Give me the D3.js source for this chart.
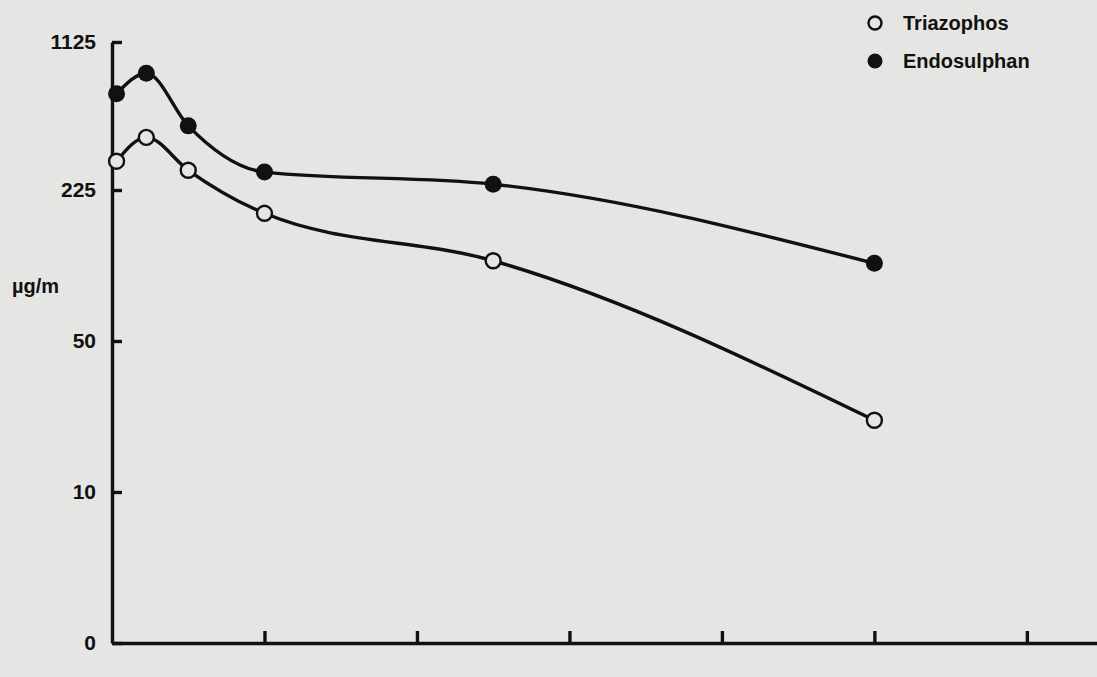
<!DOCTYPE html>
<html>
<head>
<meta charset="utf-8">
<script src="https://cdn.jsdelivr.net/npm/d3@7"></script>
<style>
  body { margin: 0; background: #e5e5e3; }
  svg { display: block; }
  text { font-family: "Liberation Sans", Arial, sans-serif; font-weight: bold; fill: #111; }
</style>
</head>
<body>
<div id="chart"></div>
<script>
const svgWidth = 1097;
const svgHeight = 677;

// distance along x (no labels on the original axis)
const distances = [0.3, 2.25, 5, 10, 25, 50];
const triazophos = [400, 545, 345, 198, 143, 29];
const endosulphan = [810, 935, 615, 334, 260, 140];

const yTicks = [0, 10, 50, 225, 1125];
const xTicks = [10, 20, 30, 40, 50, 60];

const seriesNames = ["Triazophos", "Endosulphan"];

const svg = d3.select("#chart")
  .append("svg")
  .attr("width", svgWidth)
  .attr("height", svgHeight);

// x scale: axis runs from the y axis to the right edge
const xScale = d3.scaleLinear()
  .domain([0, 64.6])
  .range([112, 1097]);

// y axis has evenly spaced, non-linear ticks
const yScale = d3.scaleLinear()
  .domain(yTicks)
  .range([643, 492, 341, 190, 42]);

// x axis with upward ticks, no labels
svg.append("g")
  .attr("transform", `translate(0, ${yScale(0)})`)
  .call(d3.axisBottom(xScale)
    .tickValues(xTicks)
    .tickSizeInner(-12)
    .tickSizeOuter(0)
    .tickFormat(""));

// y axis with ticks pointing into the plot
const yAxis = svg.append("g")
  .attr("transform", `translate(${xScale(0)}, 0)`)
  .call(d3.axisLeft(yScale)
    .tickValues(yTicks)
    .tickSizeInner(-10)
    .tickSizeOuter(0)
    .tickPadding(16)
    .tickFormat(d3.format("d")));

svg.selectAll(".domain, .tick line")
  .attr("stroke", "#111")
  .attr("stroke-width", 3.4);

yAxis.selectAll("text")
  .attr("font-size", "21px")
  .attr("fill", "#111");

// unit label
svg.append("text")
  .attr("x", 12)
  .attr("y", 293)
  .attr("font-size", "20px")
  .text("µg/m");

const line = d3.line()
  .x((d, i) => xScale(distances[i]))
  .y(d => yScale(d))
  .curve(d3.curveMonotoneX);

// curves
[triazophos, endosulphan].forEach(function(values) {
  svg.append("path")
    .datum(values)
    .attr("d", line)
    .attr("fill", "none")
    .attr("stroke", "#111")
    .attr("stroke-width", 3.4);
});

// open markers
svg.selectAll("circle.tri")
  .data(triazophos)
  .enter()
  .append("circle")
  .classed("tri", true)
  .attr("cx", (d, i) => xScale(distances[i]))
  .attr("cy", d => yScale(d))
  .attr("r", 7.5)
  .attr("fill", "#e5e5e3")
  .attr("stroke", "#111")
  .attr("stroke-width", 2.4);

// filled markers
svg.selectAll("circle.endo")
  .data(endosulphan)
  .enter()
  .append("circle")
  .classed("endo", true)
  .attr("cx", (d, i) => xScale(distances[i]))
  .attr("cy", d => yScale(d))
  .attr("r", 8.5)
  .attr("fill", "#111");

// legend
const legend = svg.append("g")
  .attr("transform", "translate(875, 23)");

seriesNames.forEach(function(name, i) {
  const row = legend.append("g")
    .attr("transform", `translate(0, ${i * 38})`);
  row.append("circle")
    .attr("r", i === 0 ? 6.5 : 7.5)
    .attr("fill", i === 0 ? "#e5e5e3" : "#111")
    .attr("stroke", "#111")
    .attr("stroke-width", i === 0 ? 2.4 : 0);
  row.append("text")
    .attr("x", 28)
    .attr("dy", "0.36em")
    .attr("font-size", "20px")
    .text(name);
});
</script>
</body>
</html>
